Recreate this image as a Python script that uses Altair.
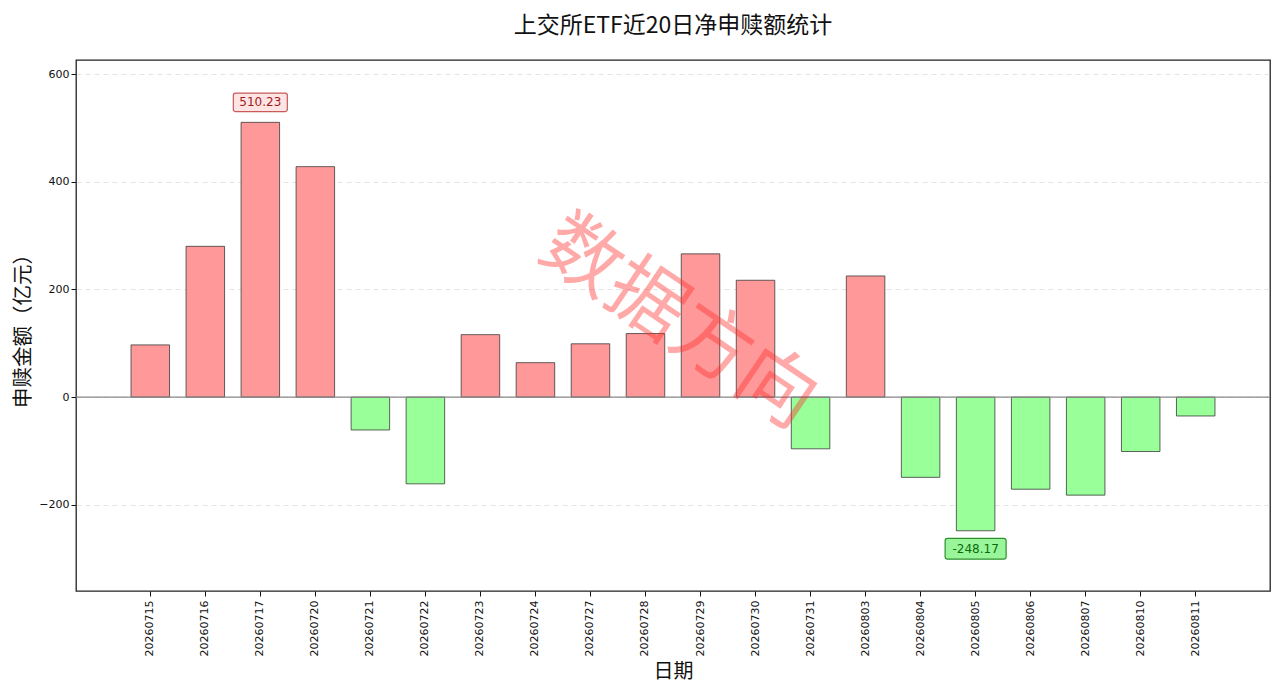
import altair as alt
import pandas as pd

dates = ["20260715", "20260716", "20260717", "20260720", "20260721", "20260722",
         "20260723", "20260724", "20260727", "20260728", "20260729", "20260730",
         "20260731", "20260803", "20260804", "20260805", "20260806", "20260807",
         "20260810", "20260811"]
values = [97, 280, 510.23, 428, -61, -161, 116, 64, 99, 118, 266, 217,
          -96, 225, -149, -248.17, -171, -182, -101, -35]

df = pd.DataFrame({"date": dates, "value": values})
df["sign"] = ["pos" if v >= 0 else "neg" for v in values]

imax = values.index(max(values))
imin = values.index(min(values))
df_max = df.iloc[[imax]].copy()
df_min = df.iloc[[imin]].copy()
df_max["label"] = [f"{v:.2f}" for v in df_max["value"]]
df_min["label"] = [f"{v:.2f}" for v in df_min["value"]]

W, H = 1194, 531
CJK = "Noto Sans CJK SC"
NUM = "DejaVu Sans"

x_enc = alt.X("date:N", sort=dates,
              scale=alt.Scale(paddingInner=0.3, paddingOuter=1.0),
              axis=alt.Axis(title="日期", labelAngle=270, labelFont=NUM, labelFontSize=11,
                            labelColor="#111", tickColor="#111", tickSize=5, domain=False,
                            titleFont=CJK, titleFontSize=20, titleFontWeight="normal",
                            titleColor="#111", titlePadding=6, labelPadding=4))
y_scale = alt.Scale(domain=[-360, 626], nice=False, zero=False)
y_axis = alt.Axis(title="申赎金额（亿元）", values=[-200, 0, 200, 400, 600],
                  labelFont=NUM, labelFontSize=11, labelColor="#111",
                  tickColor="#111", tickSize=5, domain=False,
                  grid=True, gridDash=[5, 4], gridColor="#dddddd", gridWidth=0.8,
                  titleFont=CJK, titleFontSize=20.5, titleFontWeight="normal",
                  titleColor="#111", titlePadding=5)

base = alt.Chart(df)

bars = base.mark_bar(stroke="#333333", strokeWidth=0.9, strokeOpacity=0.85).encode(
    x=x_enc,
    y=alt.Y("value:Q", scale=y_scale, axis=y_axis),
    y2=alt.datum(0),
    color=alt.Color("sign:N", scale=alt.Scale(domain=["pos", "neg"],
                                              range=["#ff9999", "#99ff99"]), legend=None),
)

zero = alt.Chart(pd.DataFrame({"z": [0]})).mark_rule(color="#888888", strokeWidth=1.2).encode(
    y=alt.Y("z:Q", scale=y_scale)
)

box_path = ("M -0.92 -0.34 L 0.92 -0.34 Q 1 -0.34 1 -0.26 L 1 0.26 Q 1 0.34 0.92 0.34 "
            "L -0.92 0.34 Q -1 0.34 -1 0.26 L -1 -0.26 Q -1 -0.34 -0.92 -0.34 Z")

box_max = alt.Chart(df_max).mark_point(shape=box_path, filled=True, fill="#ffe4e4",
                                      stroke="#c85a5a", strokeWidth=1.2, opacity=1,
                                      size=54 * 54, yOffset=-20).encode(
    x=alt.X("date:N", sort=dates), y=alt.Y("value:Q", scale=y_scale))
txt_max = alt.Chart(df_max).mark_text(font=NUM, fontSize=12, color="#a01c1c",
                                     dy=-20, baseline="middle").encode(
    x=alt.X("date:N", sort=dates), y=alt.Y("value:Q", scale=y_scale), text="label:N")

box_min = alt.Chart(df_min).mark_point(shape=box_path, filled=True, fill="#99f599",
                                      stroke="#2f8f2f", strokeWidth=1.2, opacity=1,
                                      size=61 * 61, yOffset=18).encode(
    x=alt.X("date:N", sort=dates), y=alt.Y("value:Q", scale=y_scale))
txt_min = alt.Chart(df_min).mark_text(font=NUM, fontSize=12, color="#0b6b0b",
                                     dy=18, baseline="middle").encode(
    x=alt.X("date:N", sort=dates), y=alt.Y("value:Q", scale=y_scale), text="label:N")

watermark = alt.Chart(pd.DataFrame({"t": ["数据方向"]})).mark_text(
    font=CJK, fontSize=78, color="#ff2a2a", opacity=0.4, angle=34,
    align="center", baseline="middle").encode(
    x=alt.value(602), y=alt.value(264), text="t:N")

chart = alt.layer(bars, zero, box_max, txt_max, box_min, txt_min, watermark).properties(
    width=W, height=H,
    title=alt.TitleParams("上交所ETF近20日净申赎额统计", font=CJK, fontSize=23,
                          fontWeight="normal", color="#111", anchor="middle",
                          frame="group", offset=22),
    padding={"left": 68, "top": 52, "right": 2, "bottom": 96},
    autosize=alt.AutoSizeParams(type="none"),
).configure(background="white",
            view=alt.ViewConfig(stroke="#222222", strokeWidth=1.3))

chart.save("out.html", embed_options={"renderer": "svg", "actions": False})
